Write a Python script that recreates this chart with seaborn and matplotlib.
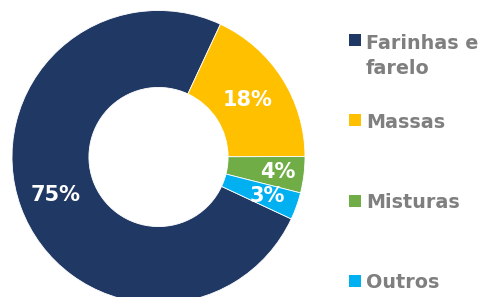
import numpy as np
import matplotlib.pyplot as plt
from matplotlib.patches import Rectangle
import seaborn as sns

# Data
categories = ["Farinhas e\nfarelo", "Massas", "Misturas", "Outros"]
shares = [75, 18, 4, 3]
colors = ["#203864", "#FFC000", "#70AD47", "#00B0F0"]

sns.set_theme(style="white")
plt.rcParams["font.family"] = ["DejaVu Sans"]

W, H, DPI = 478, 297, 100
fig = plt.figure(figsize=(W / DPI, H / DPI), dpi=DPI)

# donut: centre (158.5, 157) px, radius 146.5 px
cx, cy, r = 158.5, 157, 146.5
ax = fig.add_axes([(cx - r) / W, (H - cy - r) / H, 2 * r / W, 2 * r / H])

wedges, _ = ax.pie(
    shares,
    colors=colors,
    startangle=-25,
    counterclock=False,
    radius=1,
    wedgeprops=dict(width=0.525, edgecolor="white", linewidth=0.6),
)
ax.set_xlim(-1, 1)
ax.set_ylim(-1, 1)
ax.set_aspect("equal")
ax.axis("off")

# percentage labels
label_dist = [0.75, 0.72, 0.82, 0.79]
for w, val, d in zip(wedges, shares, label_dist):
    mid = np.deg2rad((w.theta1 + w.theta2) / 2)
    ax.text(d * np.cos(mid), d * np.sin(mid), f"{val}%", color="white",
            fontsize=15, fontweight="bold", ha="center", va="center")

# legend drawn on the right (baseline of last line is used for alignment)
item_y = [40, 120, 200.5, 281]
line_step = 26
for lab, col, yc in zip(categories, colors, item_y):
    fig.add_artist(Rectangle((349 / W, 1 - (yc + 6) / H), 12 / W, 12 / H,
                             transform=fig.transFigure, facecolor=col,
                             edgecolor="none"))
    extra = (lab.count("\n")) * line_step
    fig.text(366 / W, 1 - (yc + 7.5 + extra) / H, lab, color="#7F7F7F",
             fontsize=13.8, fontweight="bold", ha="left", va="baseline",
             linespacing=1.36)

fig.savefig("out.png", dpi=DPI)
